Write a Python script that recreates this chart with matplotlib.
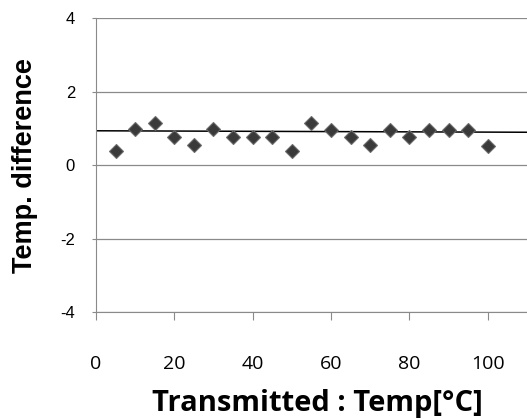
import matplotlib.pyplot as plt

plt.rcParams['axes.unicode_minus'] = False

# data
transmitted = [5, 10, 15, 20, 25, 30, 35, 40, 45, 50,
               55, 60, 65, 70, 75, 80, 85, 90, 95, 100]
temp_diff = [0.38, 0.98, 1.15, 0.78, 0.56, 0.98, 0.78, 0.78, 0.78, 0.38,
             1.15, 0.96, 0.76, 0.55, 0.96, 0.76, 0.95, 0.95, 0.95, 0.53]
ref_line = [0.94, 0.90]   # black reference line, left and right end
x_ticks = [0, 20, 40, 60, 80, 100]
y_ticks = [-4, -2, 0, 2, 4]

fig = plt.figure(figsize=(5.27, 4.19), dpi=100)
ax = fig.add_axes([0.182, 0.255, 0.818, 0.701])

ax.set_xlim(0, 110)
ax.set_ylim(-4, 4)

# grid lines
for yv in y_ticks:
    ax.axhline(yv, color='#8a8a8a', lw=0.9, zorder=1)

ax.plot([0, 110], ref_line, color='black', lw=1.1, zorder=2)
ax.plot(transmitted, temp_diff, ls='none', marker='D', ms=7,
        mfc='#3a3a3a', mec='#6a6a6a', mew=0.8, zorder=3)

for s in ['top', 'right']:
    ax.spines[s].set_visible(False)
ax.spines['left'].set_color('#8a8a8a')
ax.spines['bottom'].set_color('#8a8a8a')

ax.set_xticks(x_ticks)
ax.set_yticks(y_ticks)
ax.tick_params(axis='x', direction='out', length=6, width=0.8, color='#8a8a8a',
               pad=25, labelsize=14)
ax.tick_params(axis='y', direction='out', length=3, width=0.8, color='#8a8a8a',
               pad=12, labelsize=12)
for lb in ax.get_xticklabels():
    lb.set_family('Open Sans')
for lb in ax.get_yticklabels():
    lb.set_family('Liberation Sans')

fig.text(317 / 527, 1 - 403 / 419, 'Transmitted : Temp[°C]', ha='center', va='center',
         fontsize=21, fontweight='bold', family='Open Sans')
fig.text(25 / 527, 1 - 166 / 419, 'Temp. difference', ha='center', va='center',
         rotation=90, fontsize=19.5, fontweight='bold', family='Liberation Sans')

fig.savefig('out.png', dpi=100)
